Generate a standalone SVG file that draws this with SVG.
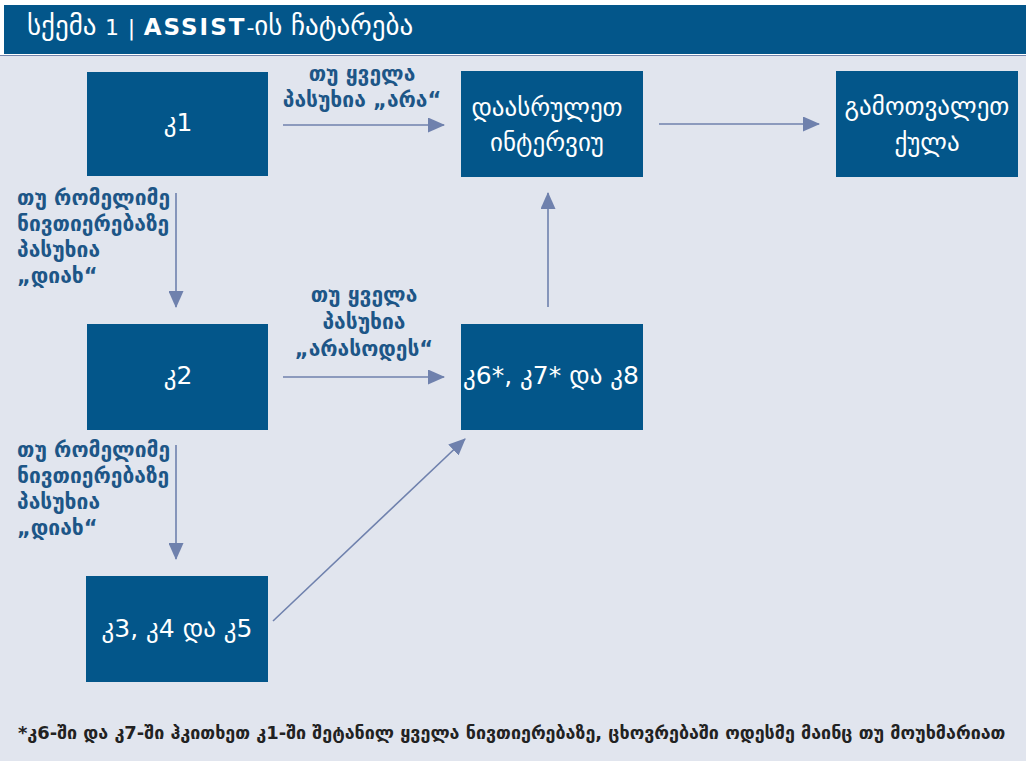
<svg xmlns="http://www.w3.org/2000/svg" width="1026" height="761" viewBox="0 0 1026 761">
<defs>
<marker id="ah" markerWidth="17" markerHeight="15" refX="16" refY="7.5" orient="auto" markerUnits="userSpaceOnUse">
<path d="M0,0 L17,7.5 L0,15 Z" fill="#6f81ad"/>
</marker>
<style>
.node{fill:#03568a}
.nt{fill:#ffffff;font-family:"DejaVu Sans",sans-serif;font-size:25px;text-anchor:middle}
.lbl{fill:#1d5687;font-family:"DejaVu Sans",sans-serif;font-size:21px;font-weight:bold}
.conn{stroke:#6f81ad;stroke-width:1.6;fill:none;marker-end:url(#ah)}
</style>
</defs>
<rect x="0" y="0" width="1026" height="761" fill="#ffffff"/>
<rect x="0" y="55" width="1026" height="706" fill="#e1e5ee"/>
<line x1="0" y1="55.5" x2="1026" y2="55.5" stroke="#7384ab" stroke-width="1"/>
<g id="title">
<rect x="4" y="5" width="1022" height="49" fill="#03568a"/>
<text x="27" y="35" fill="#ffffff" font-family="DejaVu Sans, sans-serif" font-size="27">სქემა <tspan font-size="22">1</tspan> <tspan font-size="22">|</tspan> <tspan font-size="23" font-weight="bold" letter-spacing="2">ASSIST</tspan><tspan font-size="22">-</tspan>ის ჩატარება</text>
</g>
<g id="connectors">
<line class="conn" x1="283" y1="125" x2="444" y2="125"/>
<line class="conn" x1="659" y1="124" x2="819" y2="124"/>
<line class="conn" x1="283" y1="377" x2="444" y2="377"/>
<line class="conn" x1="548" y1="307" x2="548" y2="193"/>
<line class="conn" x1="176" y1="193" x2="176" y2="307"/>
<line class="conn" x1="176" y1="445" x2="176" y2="559"/>
<line class="conn" x1="273" y1="621" x2="465" y2="439"/>
</g>
<g id="label-k1-end">
<text class="lbl" x="362" y="81" text-anchor="middle">თუ ყველა</text>
<text class="lbl" x="362" y="107" text-anchor="middle">პასუხია „არა“</text>
</g>
<g id="label-k2-k6">
<text class="lbl" x="364" y="302" text-anchor="middle">თუ ყველა</text>
<text class="lbl" x="364" y="329" text-anchor="middle">პასუხია</text>
<text class="lbl" x="364" y="356" text-anchor="middle">„არასოდეს“</text>
</g>
<g id="label-k1-k2">
<text class="lbl" x="17" y="205">თუ რომელიმე</text>
<text class="lbl" x="17" y="231">ნივთიერებაზე</text>
<text class="lbl" x="17" y="257">პასუხია</text>
<text class="lbl" x="17" y="283">„დიახ“</text>
</g>
<g id="label-k2-k3">
<text class="lbl" x="17" y="457">თუ რომელიმე</text>
<text class="lbl" x="17" y="483">ნივთიერებაზე</text>
<text class="lbl" x="17" y="509">პასუხია</text>
<text class="lbl" x="17" y="535">„დიახ“</text>
</g>
<g id="k1">
<rect class="node" x="87" y="72" width="181" height="104"/>
<text class="nt" x="178" y="131">კ1</text>
</g>
<g id="end-interview">
<rect class="node" x="461" y="71" width="182" height="106"/>
<text class="nt" x="547" y="116">დაასრულეთ</text>
<text class="nt" x="547" y="151">ინტერვიუ</text>
</g>
<g id="score">
<rect class="node" x="836" y="71" width="182" height="106"/>
<text class="nt" x="927" y="115">გამოთვალეთ</text>
<text class="nt" x="927" y="151">ქულა</text>
</g>
<g id="k2">
<rect class="node" x="87" y="324" width="181" height="106"/>
<text class="nt" x="178" y="384">კ2</text>
</g>
<g id="k678">
<rect class="node" x="461" y="324" width="182" height="106"/>
<text class="nt" x="551" y="384">კ6*, კ7* და კ8</text>
</g>
<g id="k345">
<rect class="node" x="86" y="576" width="182" height="106"/>
<text class="nt" x="177" y="637">კ3, კ4 და კ5</text>
</g>
<g id="footnote">
<text x="18" y="739" fill="#222222" font-family="DejaVu Sans, sans-serif" font-size="17.9" font-weight="bold">*კ6-ში და კ7-ში ჰკითხეთ კ1-ში შეტანილ ყველა ნივთიერებაზე, ცხოვრებაში ოდესმე მაინც თუ მოუხმარიათ</text>
</g>
</svg>
